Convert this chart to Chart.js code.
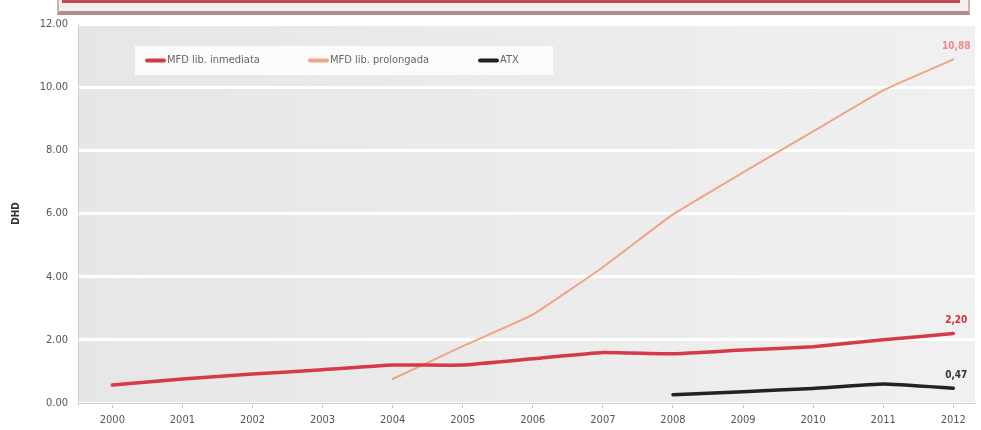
<!DOCTYPE html>
<html>
<head>
<meta charset="utf-8">
<script src="https://cdn.jsdelivr.net/npm/chart.js@4.4.1/dist/chart.umd.min.js"></script>
<style>
    html, body { margin: 0; padding: 0; background: #fff; }
    #wrap { position: relative; width: 981px; height: 430px; }
    #topBox {
        position: absolute; left: 57px; top: 0; width: 909px; height: 11px;
        background: #f0f0f0;
        border-left: 2px solid #c9b3b3; border-right: 2px solid #c9b3b3;
        border-bottom: 4px solid #b38d8d;
    }
    #topBox .bar { position: absolute; left: 3px; right: 8px; top: 0; height: 3px; background: #c9474b; }
</style>
</head>
<body>
<div id="wrap">
    <canvas id="dhdChart" width="981" height="430"></canvas>
    <div id="topBox"><div class="bar"></div></div>
</div>
<script>
const years = [2000, 2001, 2002, 2003, 2004, 2005, 2006, 2007, 2008, 2009, 2010, 2011, 2012];
const yTicks = [0, 2, 4, 6, 8, 10, 12];

// MFD liberación inmediata, 2000-2012
const mfdInmediata = [0.57, 0.76, 0.92, 1.05, 1.2, 1.2, 1.4, 1.6, 1.56, 1.68, 1.78, 2.0, 2.2];
// MFD liberación prolongada, 2004-2012
const prolongadaYears = [2004, 2005, 2006, 2007, 2008, 2009, 2010, 2011, 2012];
const mfdProlongada = [0.76, 1.8, 2.8, 4.3, 5.97, 7.3, 8.6, 9.9, 10.88];
// ATX, 2008-2012
const atxYears = [2008, 2009, 2010, 2011, 2012];
const atx = [0.26, 0.36, 0.46, 0.6, 0.47];

const toPoints = (xs, ys) => xs.map((x, i) => ({ x: x, y: ys[i] }));
const fmt = v => v.toFixed(2).replace(".", ",");

const labelFont = "'Liberation Sans Narrow', 'DejaVu Sans Condensed', sans-serif";

// grey plot background
const plotBackground = {
    id: "plotBackground",
    beforeDraw(chart) {
        const { ctx, chartArea: a } = chart;
        const g = ctx.createLinearGradient(a.left, 0, a.right, 0);
        g.addColorStop(0, "#e6e6e6");
        g.addColorStop(1, "#f0f0f0");
        ctx.save();
        ctx.fillStyle = g;
        ctx.fillRect(a.left, a.top, a.right - a.left, a.bottom - a.top);
        ctx.restore();
    }
};

// legend box drawn inside the plot, top left
const boxLegend = {
    id: "boxLegend",
    afterDatasetsDraw(chart) {
        const ctx = chart.ctx;
        const left = 135, top = 46, w = 418, h = 29;
        const itemX = [147, 310, 480];
        ctx.save();
        ctx.fillStyle = "#fbfbfb";
        ctx.fillRect(left, top, w, h);
        ctx.font = "11px " + labelFont;
        ctx.textBaseline = "middle";
        chart.data.datasets.forEach((ds, i) => {
            const x = itemX[i], y = top + h / 2;
            ctx.strokeStyle = ds.borderColor;
            ctx.lineWidth = 4;
            ctx.lineCap = "round";
            ctx.beginPath();
            ctx.moveTo(x, y);
            ctx.lineTo(x + 17, y);
            ctx.stroke();
            ctx.fillStyle = "#666";
            ctx.fillText(ds.label, x + 20, y);
        });
        ctx.restore();
    }
};

// value of the last point above each line end
const endLabels = {
    id: "endLabels",
    afterDatasetsDraw(chart) {
        const ctx = chart.ctx;
        ctx.save();
        ctx.font = "bold 10px " + labelFont;
        ctx.textAlign = "center";
        ctx.textBaseline = "bottom";
        chart.data.datasets.forEach((ds, i) => {
            const meta = chart.getDatasetMeta(i);
            const last = meta.data[meta.data.length - 1];
            const value = ds.data[ds.data.length - 1].y;
            ctx.fillStyle = ds.endLabelColor;
            ctx.fillText(fmt(value), last.x + 3, last.y - 8);
        });
        ctx.restore();
    }
};

const ctx = document.getElementById("dhdChart").getContext("2d");
const dhdChart = new Chart(ctx, {
    type: "line",
    data: {
        datasets: [
            {
                label: "MFD lib. inmediata",
                data: toPoints(years, mfdInmediata),
                borderColor: "#d63a47",
                borderWidth: 3.5,
                endLabelColor: "#d8303c",
            },
            {
                label: "MFD lib. prolongada",
                data: toPoints(prolongadaYears, mfdProlongada),
                borderColor: "#f0a486",
                borderWidth: 2,
                endLabelColor: "#ef8a88",
            },
            {
                label: "ATX",
                data: toPoints(atxYears, atx),
                borderColor: "#222222",
                borderWidth: 3.5,
                endLabelColor: "#333333",
            },
        ],
    },
    options: {
        responsive: false,
        animation: false,
        layout: {
            padding: { top: 24, right: 6, left: 0, bottom: 0 }
        },
        elements: {
            point: { radius: 0 },
            line: { tension: 0.1, borderCapStyle: "round", borderJoinStyle: "round" }
        },
        plugins: {
            legend: { display: false },
            tooltip: { enabled: false }
        },
        scales: {
            x: {
                type: "linear",
                min: 1999.51,
                max: 2012.31,
                afterBuildTicks: axis => {
                    axis.ticks = years.map(v => ({ value: v }));
                },
                afterFit: scale => { scale.height = 27; },
                grid: {
                    drawOnChartArea: false,
                    drawTicks: true,
                    tickLength: 5,
                    color: "#c4c4c4"
                },
                border: { color: "#cfcfcf", width: 1 },
                ticks: {
                    padding: 6,
                    maxRotation: 0,
                    autoSkip: false,
                    color: "#555",
                    font: { family: labelFont, size: 11 },
                    callback: v => String(v)
                }
            },
            y: {
                min: 0,
                max: 12,
                afterBuildTicks: axis => {
                    axis.ticks = yTicks.map(v => ({ value: v }));
                },
                afterFit: scale => { scale.width = 78; },
                title: {
                    display: true,
                    text: "DHD",
                    color: "#333",
                    padding: { top: 10, bottom: 0 },
                    font: { family: labelFont, size: 10, weight: "bold" }
                },
                grid: {
                    color: "#ffffff",
                    lineWidth: 3,
                    drawTicks: false
                },
                border: { color: "#cfcfcf", width: 1 },
                ticks: {
                    padding: 10,
                    color: "#555",
                    font: { family: labelFont, size: 11 },
                    callback: v => v.toFixed(2)
                }
            }
        }
    },
    plugins: [plotBackground, boxLegend, endLabels]
});
</script>
</body>
</html>
